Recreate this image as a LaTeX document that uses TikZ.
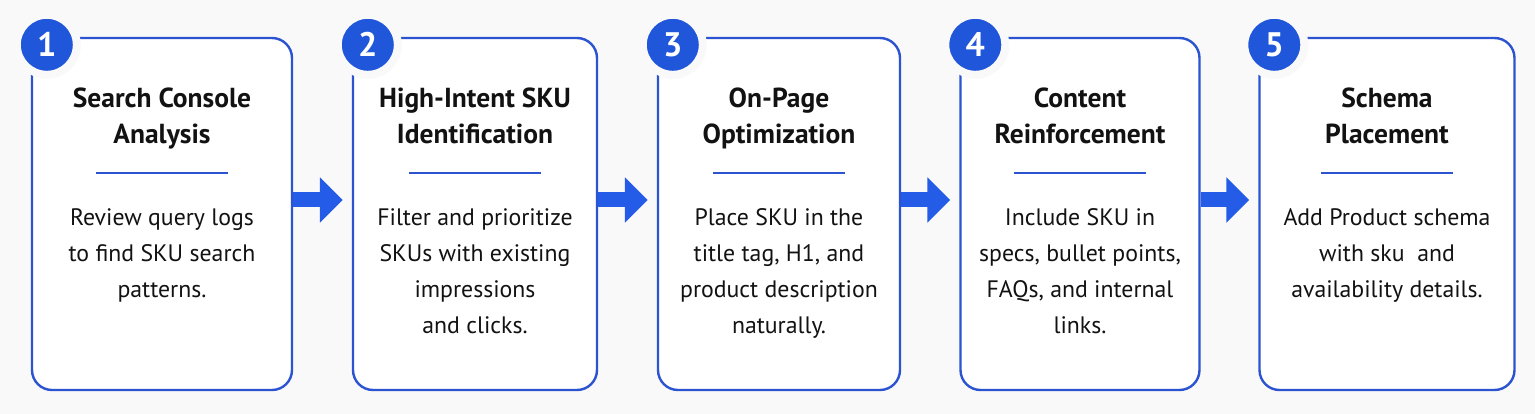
\documentclass[tikz,border=0pt]{standalone}
\usepackage{fontspec}
\setmainfont{PT Sans}
\usetikzlibrary{arrows.meta,positioning}

\definecolor{paper}{RGB}{249,249,249}
\definecolor{frameblue}{RGB}{44,84,208}
\definecolor{badgeblue}{RGB}{32,86,218}
\definecolor{flowblue}{RGB}{36,92,232}
\definecolor{ink}{RGB}{18,18,18}

\begin{document}
\begin{tikzpicture}[
		x=1pt, y=-1pt,   % <-- one unit is one pixel of the reference
		card/.style={draw=frameblue, line width=2.4pt, fill=white, rounded corners=20pt,
			minimum height=352pt, inner sep=0pt},
		badge/.style={circle, fill=badgeblue, draw=paper, line width=8pt, minimum size=60pt,
			inner sep=0pt, text=white, font=\bfseries\fontsize{34}{34}\selectfont},
		heading/.style={anchor=north, align=center, inner sep=0pt, text=ink,
			font=\bfseries\fontsize{27.5}{36}\selectfont},
		blurb/.style={anchor=north, align=center, inner sep=0pt, text=ink,
			font=\fontsize{23.8}{36}\selectfont},
		rule/.style={draw=frameblue, line width=2pt},
		flow/.style={draw=flowblue, line width=15pt, line cap=butt,
			-{Triangle[length=23pt, width=44pt]}, shorten >=9pt}
		]
		
		\fill[paper] (0,0) rectangle (1535,414);
		\useasboundingbox (0,0) rectangle (1535,414);
		
		% the five steps
		\foreach \i/\cx/\w/\head/\body in {
			1/162/260/{Search Console\\Analysis}/{Review query logs\\to find SKU search\\patterns.},
			2/475/244/{High-Intent SKU\\Identification}/{Filter and prioritize\\SKUs with existing\\impressions\\and clicks.},
			3/779/242/{On-Page\\Optimization}/{Place SKU in the\\title tag, H1, and\\product description\\naturally.},
			4/1080/239/{Content\\Reinforcement}/{Include SKU in\\specs, bullet points,\\FAQs, and internal\\links.},
			5/1387/255/{Schema\\Placement}/{Add Product schema\\with sku\ \ and\\availability details.}}
		{
			\node[card, minimum width=\w pt] (b\i) at (\cx,214) {};
			\node[badge] (n\i) at ([xshift=16pt, yshift=-8pt]b\i.north west) {\i};
			\node[heading] (h\i) at ([yshift=-51pt]b\i.north) {\head};
			\draw[rule] (\cx-66,173) -- (\cx+66,173);
			\node[blurb] (t\i) at ([yshift=-172pt]b\i.north) {\body};
		}
		
		% arrows between the steps
		\foreach \a/\b in {1/2, 2/3, 3/4, 4/5}
			\draw[flow] ([yshift=14pt]b\a.east) -- ([yshift=14pt]b\b.west);
		
	\end{tikzpicture}
\end{document}
